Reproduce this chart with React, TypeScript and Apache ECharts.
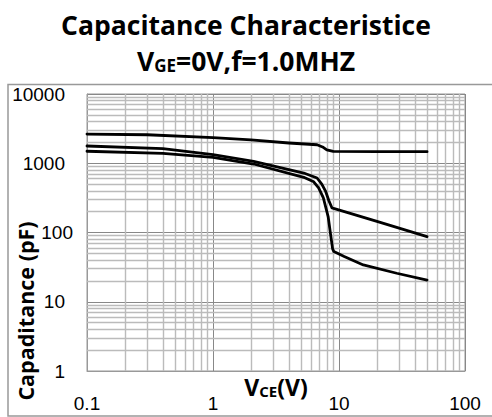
import React, { useEffect, useRef } from "react";
import * as echarts from "echarts";

// ---- data ----
const ciesV = [0.1, 0.3, 1, 2, 4, 6.7, 7.4, 8.0, 9, 20, 50];
const ciesC = [2640, 2580, 2350, 2170, 1960, 1850, 1720, 1560, 1480, 1470, 1470];

const coesV = [0.1, 0.4, 1, 2.1, 5.25, 6.7, 7.3, 7.8, 8.3, 8.8, 9.2, 20, 50];
const coesC = [1775, 1622, 1330, 1067, 722, 612, 500, 400, 290, 226, 221, 145, 87];

const cresV = [0.1, 0.4, 1, 2.1, 5.25, 6.3, 6.89, 7.5, 8.2, 8.6, 8.9, 9.1, 11, 15.6, 28.7, 50];
const cresC = [1490, 1393, 1218, 975, 627, 540, 440, 320, 170, 90, 58, 53, 45, 34, 25.8, 20.6];

const xTickLabels = ["0.1", "1", "10", "100"];
const yTickLabels = ["1", "10", "100", "1000", "10000"];

const xDecades = [0.1, 1, 10];
const yDecades = [1, 10, 100, 1000];
const minorSteps = [2, 3, 4, 5, 6, 7, 8, 9];

const pairs = (xs: number[], ys: number[]) => xs.map((x, i) => [x, ys[i]]);

export default function App() {
  const ref = useRef<HTMLDivElement>(null);
  useEffect(() => {
    if (!ref.current) return;
    const chart = echarts.init(ref.current, undefined, { renderer: "svg" });
    const minorX: any[] = [];
    xDecades.forEach((d) => minorSteps.forEach((m) => minorX.push({ xAxis: +(d * m).toPrecision(3) })));
    const minorY: any[] = [];
    yDecades.forEach((d) => minorSteps.forEach((m) => minorY.push({ yAxis: d * m })));

    const font = "Open Sans";
    const lineSeries = (name: string, data: number[][]) => ({
      name,
      type: "line",
      data,
      symbol: "none",
      smooth: false,
      z: 5,
      lineStyle: { color: "#000", width: 2.8, join: "round", cap: "round" },
    });
    const tickFont = { fontFamily: "Liberation Sans", fontSize: 19, color: "#000" };

    chart.setOption({
      animation: false,
      backgroundColor: "#fff",
      title: [
        {
          text: "Capacitance Characteristice",
          left: "center",
          top: 6,
          textStyle: { fontFamily: font, fontSize: 26.5, fontWeight: "bold", color: "#000" },
        },
        {
          text: "{a|V}{b|GE}{a|=0V,f=1.0MHZ}",
          left: "center",
          top: 43,
          textStyle: {
            rich: {
              a: { fontFamily: font, fontSize: 26.5, fontWeight: "bold", color: "#000", lineHeight: 26, verticalAlign: "bottom" },
              b: { fontFamily: font, fontSize: 17, fontWeight: "bold", color: "#000", lineHeight: 17, verticalAlign: "bottom" },
            },
          },
        },
      ],
      grid: {
        left: 87,
        top: 94,
        width: 378,
        height: 277,
        show: true,
        borderColor: "#999",
        borderWidth: 1,
        containLabel: false,
        outerBoundsMode: "none",
      },
      xAxis: {
        type: "log",
        logBase: 10,
        min: 0.1,
        max: 100,
        name: "{a|V}{b|CE}{a|(V)}",
        nameLocation: "middle",
        nameGap: 4,
        nameMoveOverlap: false,
        nameTextStyle: {
          rich: {
            a: { fontFamily: font, fontSize: 23, fontWeight: "bold", color: "#000", lineHeight: 23, verticalAlign: "bottom" },
            b: { fontFamily: font, fontSize: 15, fontWeight: "bold", color: "#000", lineHeight: 15, verticalAlign: "bottom" },
          },
        },
        axisLine: { show: true, lineStyle: { color: "#999", width: 1 } },
        axisTick: { show: false },
        axisLabel: {
          ...tickFont,
          margin: 23,
          formatter: (v: number) => {
            const s = xTickLabels.find((t) => Math.abs(parseFloat(t) - v) < 1e-9 * Math.max(1, v));
            return s ?? "";
          },
        },
        splitLine: { show: true, lineStyle: { color: "#888", width: 1 } },
      },
      yAxis: {
        type: "log",
        logBase: 10,
        min: 1,
        max: 10000,
        nameMoveOverlap: false,
        axisLine: { show: true, lineStyle: { color: "#999", width: 1 } },
        axisTick: { show: false },
        axisLabel: {
          ...tickFont,
          margin: 14,
          rich: {
            n: { ...tickFont, padding: [0, 8, 0, 0] },
            s: { ...tickFont },
          },
          formatter: (v: number) => {
            const s = yTickLabels.find((t) => Math.abs(parseFloat(t) - v) < 1e-6 * Math.max(1, v));
            if (!s) return "";
            return s === "100" ? `{s|${s}}` : `{n|${s}}`;
          },
        },
        splitLine: { show: true, lineStyle: { color: "#888", width: 1 } },
      },
      graphic: [
        {
          type: "rect",
          shape: { x: 8, y: 84.5, width: 500, height: 331.5 },
          style: { fill: "none", stroke: "#999", lineWidth: 1.5 },
          silent: true,
          z: 0,
        },
        {
          type: "text",
          x: 25,
          y: 311,
          rotation: Math.PI / 2,
          style: {
            text: "Capaditance (pF)",
            fontFamily: font,
            fontSize: 21.5,
            fontWeight: "bold",
            fill: "#000",
            align: "center",
            verticalAlign: "middle",
          },
          silent: true,
        },
      ],
      series: [
        {
          type: "line",
          data: [],
          z: 1,
          silent: true,
          markLine: {
            silent: true,
            symbol: "none",
            animation: false,
            label: { show: false },
            emphasis: { disabled: true },
            lineStyle: { color: "#bbb", width: 1.4, type: "solid" },
            data: [...minorX, ...minorY],
          },
        },
        lineSeries("Cies", pairs(ciesV, ciesC)),
        lineSeries("Coes", pairs(coesV, coesC)),
        lineSeries("Cres", pairs(cresV, cresC)),
      ],
    });
    return () => chart.dispose();
  }, []);
  return <div ref={ref} style={{ position: "fixed", left: 0, top: 0, width: 492, height: 417 }} />;
}
